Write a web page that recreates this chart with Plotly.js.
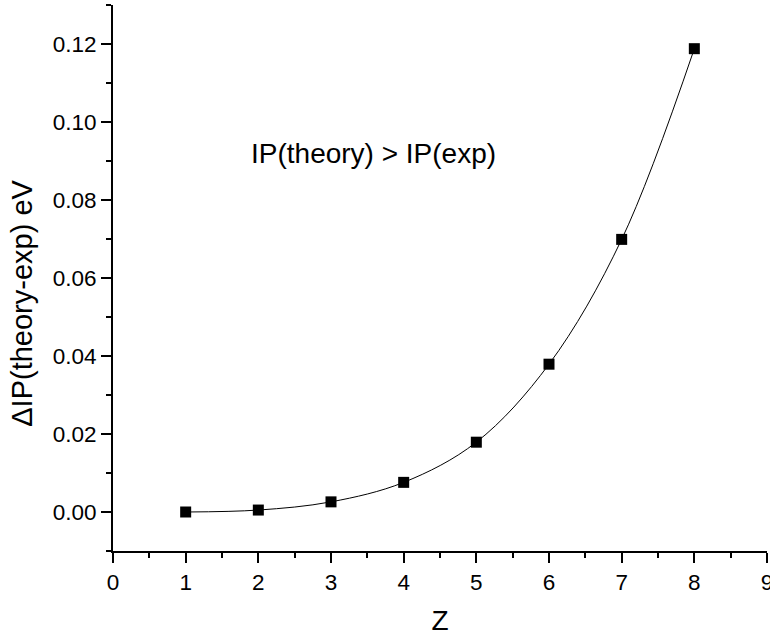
<!DOCTYPE html>
<html>
<head>
<meta charset="utf-8">
<script src="https://cdn.plot.ly/plotly-3.0.1.min.js"></script>
<style>
html,body{margin:0;padding:0;background:#fff;}
#chart{width:770px;height:637px;}
</style>
</head>
<body>
<div id="chart"></div>
<script>
const zValues = [1, 2, 3, 4, 5, 6, 7, 8];
const deltaIP = [0.0000, 0.0005, 0.0026, 0.0076, 0.0179, 0.0379, 0.0699, 0.1188];
const xTitle = 'Z';
const yTitle = '\u0394IP(theory-exp) eV';
const noteText = 'IP(theory) > IP(exp)';

const FONT = 'Arial, "Liberation Sans", sans-serif';

const traces = [{
  x: zValues,
  y: deltaIP,
  type: 'scatter',
  mode: 'lines+markers',
  line: {shape: 'spline', smoothing: 1, color: '#000', width: 1},
  marker: {symbol: 'square', size: 11, color: '#000'},
  showlegend: false,
  hoverinfo: 'x+y'
}];

const axisCommon = {
  showline: true, linecolor: '#000', linewidth: 2,
  ticks: 'outside', ticklen: 10, tickwidth: 2, tickcolor: '#000',
  showgrid: false, zeroline: false,
  tickfont: {family: FONT, size: 22.5, color: '#000'},
  ticklabeloverflow: 'allow',
  mirror: false
};

const layout = {
  width: 770, height: 637,
  margin: {l: 113, r: 3, t: 5, b: 86},
  paper_bgcolor: '#fff', plot_bgcolor: '#fff',
  font: {family: FONT, color: '#000'},
  xaxis: Object.assign({}, axisCommon, {
    range: [0, 9], tick0: 0, dtick: 1,
    minor: {dtick: 0.5, ticks: 'outside', ticklen: 5, tickwidth: 2, tickcolor: '#000', showgrid: false},
    title: {text: xTitle, font: {family: FONT, size: 28, color: '#000'}, standoff: 16}
  }),
  yaxis: Object.assign({}, axisCommon, {
    range: [-0.01, 0.13], tick0: 0, dtick: 0.02, tickformat: '.2f',
    minor: {dtick: 0.01, ticks: 'outside', ticklen: 5, tickwidth: 2, tickcolor: '#000', showgrid: false}
  }),
  annotations: [
    {
      text: noteText, xref: 'x', yref: 'y', x: 3.58, y: 0.0918,
      showarrow: false, font: {family: FONT, size: 28, color: '#000'},
      xanchor: 'center', yanchor: 'middle'
    },
    {
      text: yTitle, xref: 'paper', yref: 'paper', x: -0.139, y: 0.453,
      textangle: -90, showarrow: false,
      font: {family: FONT, size: 29, color: '#000'},
      xanchor: 'center', yanchor: 'middle'
    }
  ]
};

Plotly.newPlot('chart', traces, layout, {displayModeBar: false, staticPlot: true});
</script>
</body>
</html>
